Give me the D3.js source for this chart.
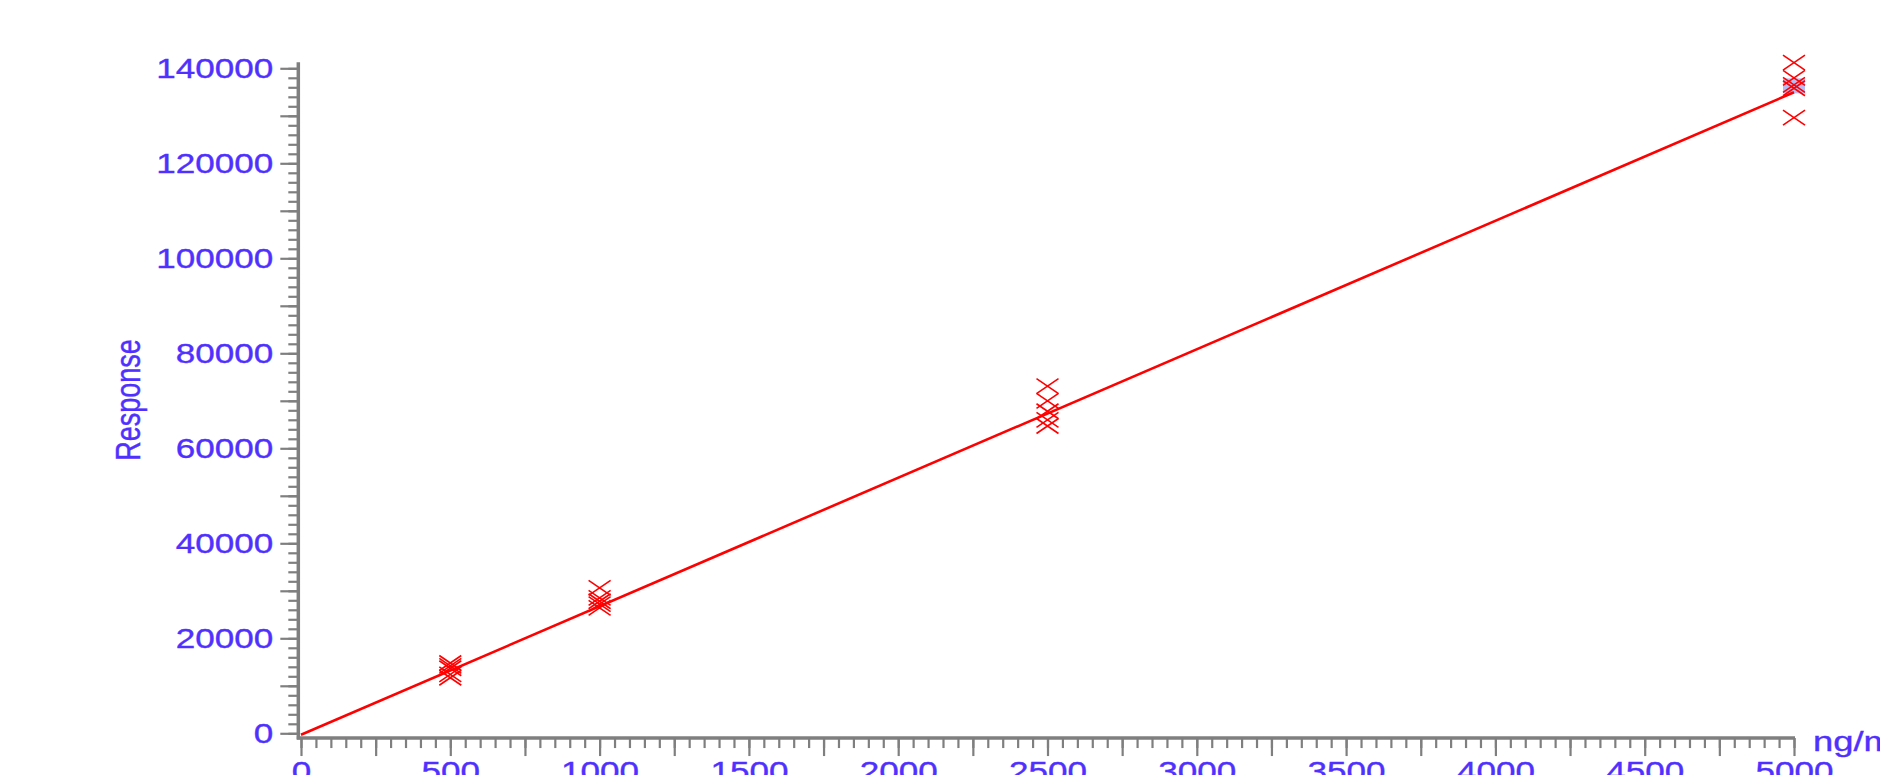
<!DOCTYPE html>
<html>
<head>
<meta charset="utf-8">
<script src="https://cdn.jsdelivr.net/npm/d3@7"></script>
<style>
  html, body { margin: 0; padding: 0; background: #ffffff; overflow: hidden; }
  svg { display: block; }
  text { font-family: "Liberation Sans", Arial, sans-serif; }
</style>
</head>
<body>
<svg id="chart" width="1880" height="775"></svg>
<script>
// ---- data ----
const concentrations = [500, 1000, 2500, 5000];
const responses500  = [14800, 14200, 13700, 12400, 11700];
const responses1000 = [30600, 28500, 27800, 27200, 26400];
const responses2500 = [73100, 70000, 67800, 66000, 64700];
const responses5000 = [141200, 138000, 136500, 135800, 129600];
const fitLine = [[0, -300], [5000, 134950]];
const highlighted = [5000, 136300];
const xTicks = [0, 500, 1000, 1500, 2000, 2500, 3000, 3500, 4000, 4500, 5000];
const yTicks = [0, 20000, 40000, 60000, 80000, 100000, 120000, 140000];
const xUnit = "ng/mL";
const yTitle = "Response";

// ---- setup ----
const svg = d3.select("#chart");
const textColor = "#4f30ff";
const axisColor = "#7f7f7f";
const red = "#ff0000";
const stretch = 1.3;

const x = d3.scaleLinear().domain([0, 5000]).range([301, 1794]);
const y = d3.scaleLinear().domain([0, 140000]).range([733.3, 68.3]);

const xAxisY = y(-1000);
const yAxisX = x(-9);

function styleText(sel, size) {
  sel.attr("fill", textColor)
    .attr("stroke", textColor)
    .attr("stroke-width", 0.35)
    .style("font-family", '"Liberation Sans", Arial, sans-serif')
    .style("font-size", size + "px");
}

// axis lines
svg.append("line")
  .attr("x1", yAxisX).attr("x2", yAxisX)
  .attr("y1", y(141300)).attr("y2", xAxisY + 1.5)
  .attr("stroke", axisColor).attr("stroke-width", 3.5);
svg.append("line")
  .attr("x1", yAxisX - 1.5).attr("x2", x(5000) + 1)
  .attr("y1", xAxisY).attr("y2", xAxisY)
  .attr("stroke", axisColor).attr("stroke-width", 3.5);

// minor ticks
const yMinor = d3.range(0, 140001, 2000);
const yMid = d3.range(10000, 140000, 20000);
const xMinor = d3.range(0, 5001, 50);
const xMid = d3.range(250, 5000, 500);

const gy = svg.append("g").attr("transform", `translate(${yAxisX},0)`);
gy.call(d3.axisLeft(y).tickValues(yMinor).tickSize(10).tickFormat(""));
gy.call(g => g.select(".domain").remove());
gy.selectAll("line").attr("stroke", axisColor).attr("stroke-width", 2.2);

const gy2 = svg.append("g").attr("transform", `translate(${yAxisX},0)`);
gy2.call(d3.axisLeft(y).tickValues(yTicks.concat(yMid)).tickSize(18).tickFormat(""));
gy2.call(g => g.select(".domain").remove());
gy2.selectAll("line").attr("stroke", axisColor).attr("stroke-width", 2.2);

const gy3 = svg.append("g").attr("transform", `translate(${yAxisX},0)`);
gy3.call(d3.axisLeft(y).tickValues(yTicks).tickSize(0).tickPadding(0).tickFormat(d3.format("d")));
gy3.call(g => g.select(".domain").remove());
gy3.selectAll("text")
  .attr("x", 0).attr("dy", "0.358em")
  .attr("transform", `translate(-25,0) scale(${stretch},1)`)
  .attr("text-anchor", "end")
  .call(styleText, 27);

const gx = svg.append("g").attr("transform", `translate(0,${xAxisY})`);
gx.call(d3.axisBottom(x).tickValues(xMinor).tickSize(10).tickFormat(""));
gx.call(g => g.select(".domain").remove());
gx.selectAll("line").attr("stroke", axisColor).attr("stroke-width", 2.2);

const gx2 = svg.append("g").attr("transform", `translate(0,${xAxisY})`);
gx2.call(d3.axisBottom(x).tickValues(xTicks.concat(xMid)).tickSize(18).tickFormat(""));
gx2.call(g => g.select(".domain").remove());
gx2.selectAll("line").attr("stroke", axisColor).attr("stroke-width", 2.2);

const gx3 = svg.append("g").attr("transform", `translate(0,${xAxisY})`);
gx3.call(d3.axisBottom(x).tickValues(xTicks).tickSize(0).tickPadding(0).tickFormat(d3.format("d")));
gx3.call(g => g.select(".domain").remove());
gx3.selectAll("text")
  .attr("y", 0).attr("dy", 0)
  .attr("transform", `translate(0,43) scale(${stretch},1)`)
  .attr("text-anchor", "middle")
  .call(styleText, 27);

// axis titles
svg.append("text")
  .attr("transform", `translate(${x(5000) + 19},${xAxisY + 13}) scale(${stretch},1)`)
  .call(styleText, 28)
  .text(xUnit);

svg.append("text")
  .attr("transform", `translate(140,400) scale(${stretch},1) rotate(-90)`)
  .attr("text-anchor", "middle")
  .call(styleText, 27)
  .text(yTitle);

// highlight
svg.append("rect")
  .attr("x", x(highlighted[0]) - 11).attr("y", y(highlighted[1]) - 7.5)
  .attr("width", 22).attr("height", 15)
  .attr("fill", "#b6bdf6");

// fit line
svg.append("path")
  .datum(fitLine)
  .attr("d", d3.line().x(d => x(d[0])).y(d => y(d[1])))
  .attr("fill", "none").attr("stroke", red).attr("stroke-width", 2.6);

// points
const seriesList = [responses500, responses1000, responses2500, responses5000];
const points = [];
concentrations.forEach((c, i) => seriesList[i].forEach(v => points.push([c, v])));

svg.append("g").selectAll("path")
  .data(points)
  .join("path")
  .attr("transform", d => `translate(${x(d[0])},${y(d[1])})`)
  .attr("d", "M-11,-7.5L11,7.5M-11,7.5L11,-7.5")
  .attr("fill", "none")
  .attr("stroke", red)
  .attr("stroke-width", 1.6);
</script>
</body>
</html>
